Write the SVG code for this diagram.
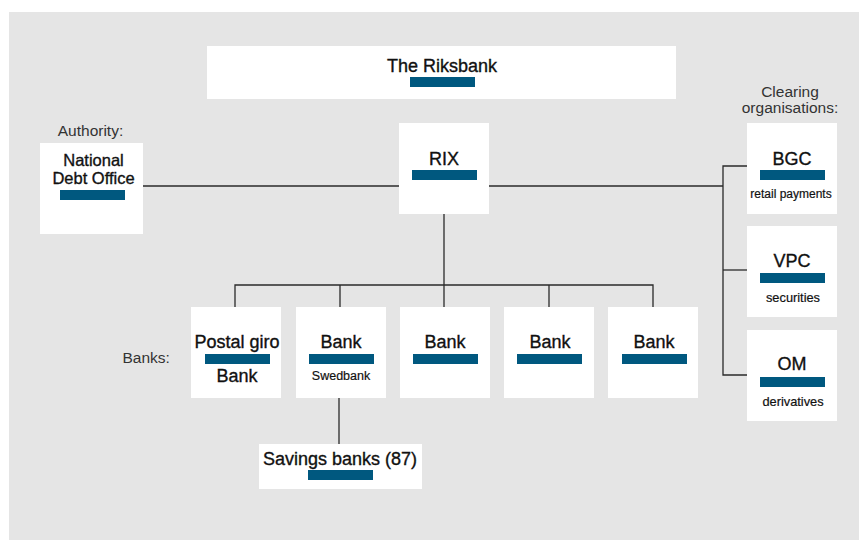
<svg xmlns="http://www.w3.org/2000/svg" width="859" height="540" viewBox="0 0 859 540">
<style>
.box{fill:#ffffff}
.bar{fill:#00587f}
.t{font-family:"Liberation Sans",Arial,sans-serif;font-size:18px;fill:#111;stroke:#111;stroke-width:0.35;text-anchor:middle}
.s{font-family:"Liberation Sans",Arial,sans-serif;font-size:12.8px;fill:#111;stroke:#111;stroke-width:0.2;text-anchor:middle}
.lbl{font-family:"Liberation Sans",Arial,sans-serif;font-size:15.5px;fill:#333}
.ln{fill:none;stroke:#2a2a2a;stroke-width:1.3}
</style>
<rect x="0" y="0" width="859" height="540" fill="#ffffff"/>
<rect x="9" y="12" width="850" height="528" fill="#e5e5e5"/>

<g id="connectors">
<path class="ln" d="M143,186 H399"/>
<path class="ln" d="M489,186 H723"/>
<path class="ln" d="M747,166 H723 V375 H747"/>
<path class="ln" d="M723,270 H747"/>
<path class="ln" d="M444,214 V285"/>
<path class="ln" d="M235,307 V285 H653 V307"/>
<path class="ln" d="M340,285 V307"/>
<path class="ln" d="M444,285 V307"/>
<path class="ln" d="M549,285 V307"/>
<path class="ln" d="M339,398 V444"/>
</g>

<g id="riksbank">
<rect class="box" x="207" y="46" width="469" height="53"/>
<text class="t" x="442" y="72">The Riksbank</text>
<rect class="bar" x="410" y="77" width="65" height="10"/>
</g>

<text class="lbl" x="90.5" y="136" text-anchor="middle">Authority:</text>
<g id="national-debt-office">
<rect class="box" x="40" y="143" width="103" height="91"/>
<text class="t" x="93.5" y="166" style="font-size:16.5px">National</text>
<text class="t" x="93.5" y="184" style="font-size:16.5px">Debt Office</text>
<rect class="bar" x="60" y="190" width="65" height="10"/>
</g>

<g id="rix">
<rect class="box" x="399" y="123" width="90" height="91"/>
<text class="t" x="444" y="165">RIX</text>
<rect class="bar" x="412" y="170" width="65" height="10"/>
</g>

<text class="lbl" x="790" y="97" text-anchor="middle">Clearing</text>
<text class="lbl" x="790" y="113" text-anchor="middle">organisations:</text>

<g id="bgc">
<rect class="box" x="747" y="123" width="90" height="91"/>
<text class="t" x="792" y="165">BGC</text>
<rect class="bar" x="760" y="170" width="65" height="10"/>
<text class="s" x="791" y="198" style="font-size:12px">retail payments</text>
</g>

<g id="vpc">
<rect class="box" x="747" y="226" width="90" height="91"/>
<text class="t" x="792" y="267">VPC</text>
<rect class="bar" x="760" y="273" width="65" height="10"/>
<text class="s" x="793" y="302">securities</text>
</g>

<g id="om">
<rect class="box" x="747" y="330" width="90" height="91"/>
<text class="t" x="792" y="370">OM</text>
<rect class="bar" x="760" y="377" width="65" height="10"/>
<text class="s" x="793" y="406">derivatives</text>
</g>

<text class="lbl" x="122.5" y="363">Banks:</text>

<g id="postal-giro-bank">
<rect class="box" x="191" y="307" width="90" height="91"/>
<text class="t" x="237" y="348">Postal giro</text>
<rect class="bar" x="205" y="354" width="65" height="10"/>
<text class="t" x="237" y="382">Bank</text>
</g>

<g id="bank-swedbank">
<rect class="box" x="296" y="307" width="90" height="91"/>
<text class="t" x="341" y="348">Bank</text>
<rect class="bar" x="309" y="354" width="65" height="10"/>
<text class="s" x="341" y="380" style="font-size:12.5px">Swedbank</text>
</g>

<g id="bank-3">
<rect class="box" x="400" y="307" width="90" height="91"/>
<text class="t" x="445" y="348">Bank</text>
<rect class="bar" x="413" y="354" width="65" height="10"/>
</g>

<g id="bank-4">
<rect class="box" x="504" y="307" width="90" height="91"/>
<text class="t" x="550" y="348">Bank</text>
<rect class="bar" x="517" y="354" width="65" height="10"/>
</g>

<g id="bank-5">
<rect class="box" x="608" y="307" width="90" height="91"/>
<text class="t" x="654" y="348">Bank</text>
<rect class="bar" x="622" y="354" width="65" height="10"/>
</g>

<g id="savings-banks">
<rect class="box" x="259" y="444" width="163" height="45"/>
<text class="t" x="340" y="465">Savings banks (87)</text>
<rect class="bar" x="308" y="470" width="65" height="10"/>
</g>
</svg>
